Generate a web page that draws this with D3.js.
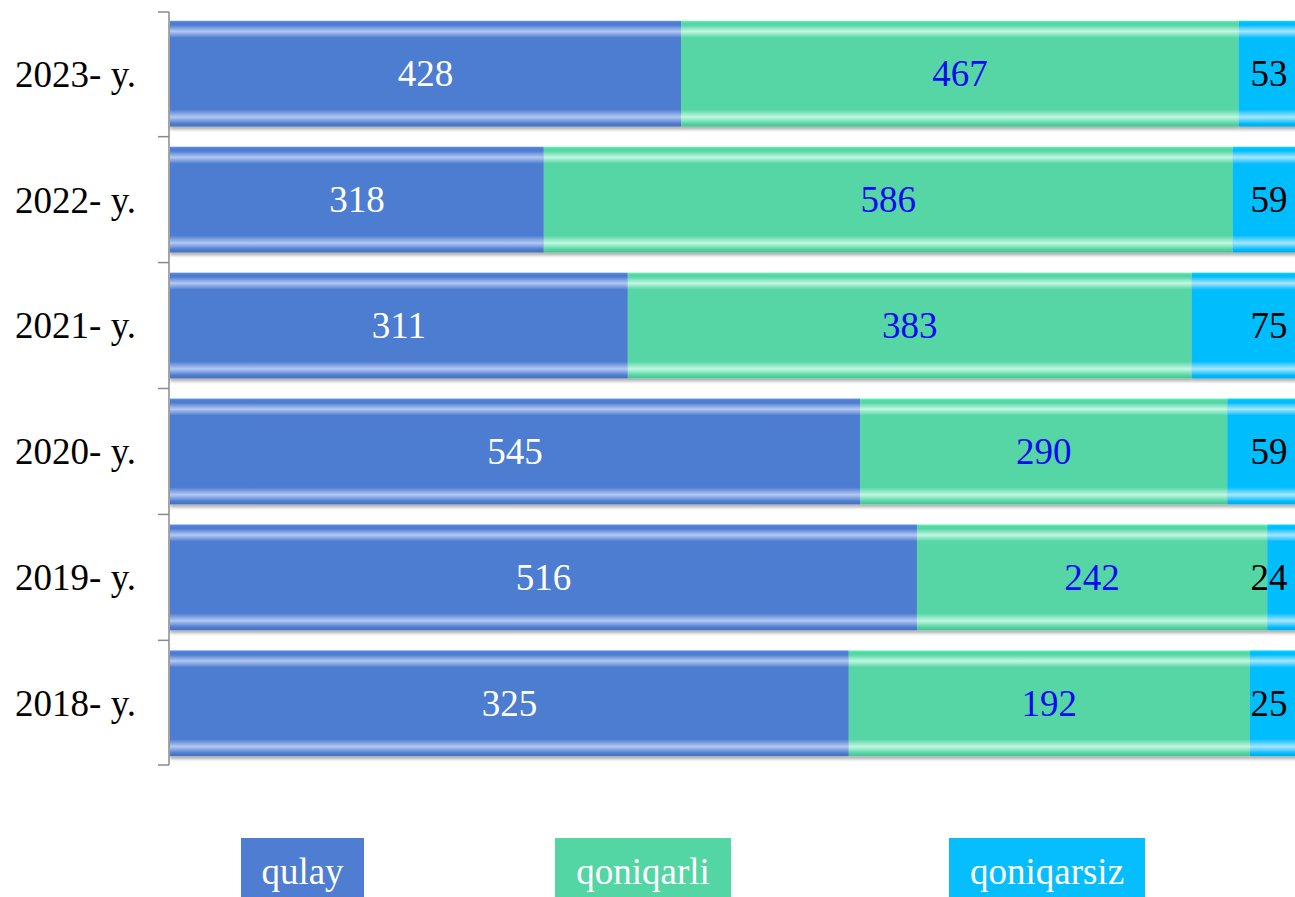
<!DOCTYPE html>
<html>
<head>
<meta charset="utf-8">
<script src="https://cdn.jsdelivr.net/npm/d3@7"></script>
<style>
html,body{margin:0;padding:0;background:#fff;overflow:hidden;}
svg{display:block;}
text{font-family:"Liberation Serif","Times New Roman",serif;}
</style>
</head>
<body>
<svg id="chart" width="1295" height="897"></svg>
<script>
const categories = ["2023- y.", "2022- y.", "2021- y.", "2020- y.", "2019- y.", "2018- y."];
const seriesNames = ["qulay", "qoniqarli", "qoniqarsiz"];
const qulay = [428, 318, 311, 545, 516, 325];
const qoniqarli = [467, 586, 383, 290, 242, 192];
const qoniqarsiz = [53, 59, 75, 59, 24, 25];

const colors = ["#4e7dd1", "#54d6a4", "#06bdfd"];
const highlights = ["#b3c8f2", "#c2f7e2", "#a8e6ff"];
const labelColors = ["#ffffff", "#0a0af0", "#000000"];

const W = 1295, H = 897;
const FS = 37;
const margin = {left: 170, top: 12, right: -7, bottom: 132};
const svg = d3.select("#chart");

const rows = categories.map((c, i) => {
  const vals = [qulay[i], qoniqarli[i], qoniqarsiz[i]];
  const total = d3.sum(vals);
  let acc = 0;
  const segs = vals.map((v, k) => {
    const s = {cat: c, k, v, x0: acc / total, x1: (acc + v) / total};
    acc += v;
    return s;
  });
  return {cat: c, segs};
});

const x = d3.scaleLinear().domain([0, 1]).range([margin.left, W - margin.right]);
const y = d3.scaleBand().domain(categories).range([margin.top, H - margin.bottom]).paddingInner(0.16).paddingOuter(0.07);

const defs = svg.append("defs");
colors.forEach((c, k) => {
  const g = defs.append("linearGradient").attr("id", "grad" + k)
    .attr("x1", 0).attr("y1", 0).attr("x2", 0).attr("y2", 1);
  const h = highlights[k];
  const stops = [
    [0, d3.color(c).brighter(0.4)], [0.02, c], [0.04, c], [0.10, h], [0.16, c],
    [0.84, c], [0.91, h], [0.97, c], [1, d3.color(c).darker(0.3)]
  ];
  stops.forEach(([o, col]) => g.append("stop").attr("offset", o).attr("stop-color", col));
});
const f = defs.append("filter").attr("id", "shadow").attr("x", "-5%").attr("y", "-10%").attr("width", "110%").attr("height", "130%");
f.append("feDropShadow").attr("dx", 0).attr("dy", 3).attr("stdDeviation", 1.6)
  .attr("flood-color", "#000").attr("flood-opacity", 0.3);

const barG = svg.append("g");
rows.forEach(r => {
  const g = barG.append("g").attr("filter", "url(#shadow)");
  g.selectAll("rect").data(r.segs).join("rect")
    .attr("x", d => x(d.x0))
    .attr("y", y(r.cat))
    .attr("width", d => x(d.x1) - x(d.x0))
    .attr("height", y.bandwidth())
    .attr("fill", d => "url(#grad" + d.k + ")");
});

// labels (last series labels are kept inside the visible chart area)
const lastLabelX = W - 26;
const labelG = svg.append("g");
rows.forEach(r => {
  labelG.selectAll(null).data(r.segs).join("text")
    .attr("x", d => d.k === 2 ? lastLabelX : (x(d.x0) + x(d.x1)) / 2)
    .attr("y", y(r.cat) + y.bandwidth() / 2 + 12.5)
    .attr("text-anchor", "middle")
    .attr("font-size", FS)
    .attr("fill", d => labelColors[d.k])
    .text(d => d.v);
});

// axis
const axis = d3.axisLeft(y).tickSize(0).tickPadding(33);
const axG = svg.append("g").attr("transform", `translate(${margin.left - 1},0)`).call(axis);
axG.select(".domain").attr("stroke", "#8a8a8a").attr("stroke-width", 1.5);
axG.selectAll(".tick text").attr("font-size", FS).attr("fill", "#000")
  .attr("font-family", '"Liberation Serif","Times New Roman",serif')
  .attr("dy", "0.35em");
const bTicks = [y.range()[0]].concat(categories.slice(1).map(c => y(c) - y.step() * y.paddingInner() / 2), [y.range()[1]]);
axG.selectAll("line.bt").data(bTicks).join("line").attr("class", "bt")
  .attr("x1", -11).attr("x2", 0).attr("y1", d => d).attr("y2", d => d)
  .attr("stroke", "#8a8a8a").attr("stroke-width", 1.5);
axG.select(".domain").attr("d", `M0,${y.range()[0]}V${y.range()[1]}`);

// legend
const legendX = [241, 555, 949];
const legendW = [123, 176, 196];
const lg = svg.append("g");
seriesNames.forEach((n, k) => {
  lg.append("rect").attr("x", legendX[k]).attr("y", 838).attr("width", legendW[k]).attr("height", 62).attr("fill", colors[k]);
  lg.append("text").attr("x", legendX[k] + legendW[k] / 2).attr("y", 884)
    .attr("text-anchor", "middle").attr("font-size", FS).attr("fill", "#fff").text(n);
});
</script>
</body>
</html>
